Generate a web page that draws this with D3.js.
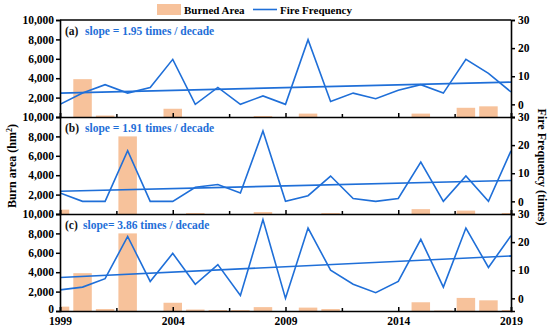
<!DOCTYPE html>
<html>
<head>
<meta charset="utf-8">
<script src="https://cdn.jsdelivr.net/npm/d3@7"></script>
<style>
  body { margin: 0; background: #fff; }
  text { font-family: "Liberation Serif", "Times New Roman", serif; font-weight: bold; }
</style>
</head>
<body>
<script>
var years = d3.range(1999, 2020);

// burned area (hm2), 1999..2019
var areaA = [0, 3900, 150, 0, 0, 850, 0, 0, 0, 100, 0, 350, 0, 0, 0, 0, 350, 0, 950, 1100, 0];
var areaB = [450, 0, 0, 8000, 0, 0, 100, 0, 0, 200, 0, 0, 100, 0, 0, 0, 500, 0, 350, 0, 100];
var areaC = [450, 3900, 200, 8000, 0, 850, 150, 100, 100, 400, 0, 350, 200, 0, 0, 0, 900, 50, 1350, 1100, 100];

// fire frequency (times), 1999..2019
var freqA = [0, 4, 7, 4, 6, 16, 0, 6, 0, 3, 0, 23, 1, 4, 2, 5, 7, 4, 16, 11, 4.4];
var freqB = [3, 0, 0, 18, 0, 0, 5, 6, 3, 25, 0, 2, 9, 1, 0, 1, 14, 0, 9, 0, 18];
var freqC = [3, 4, 7, 22, 6, 16, 5, 12, 1, 28, 0, 25, 10, 5, 2, 6, 21, 4, 25, 11, 22.3];

// trend line ends (1999, 2019)
var trendA = [4.0, 7.9];
var trendB = [3.6, 7.4];
var trendC = [7.4, 15.1];

var labels = ["(a)", "(b)", "(c)"];
var slopeText = ["slope = 1.95 times / decade", "slope = 1.91 times / decade", "slope= 3.86 times / decade"];

var W = 550, H = 333;
var mLeft = 60, mRight = 511, mTop = 20, ph = 97;
var barCol = "#f7c29b", lineCol = "#1f6fd8";

var svg = d3.select("body").append("svg")
  .attr("width", W).attr("height", H);

var x = d3.scaleLinear().domain([1999, 2019]).range([mLeft, mRight]);
var bw = (x(2000) - x(1999)) * 0.82;

var panels = [
  { area: areaA, freq: freqA, trend: trendA },
  { area: areaB, freq: freqB, trend: trendB },
  { area: areaC, freq: freqC, trend: trendC }
];

panels.forEach(function (p, i) {
  var y0 = mTop + i * ph, y1 = y0 + ph;
  var yL = d3.scaleLinear().domain([0, 10000]).range([y1, y0]);
  var yR = d3.scaleLinear().domain([-4.5, 30]).range([y1, y0]);

  svg.append("clipPath").attr("id", "clip" + i)
    .append("rect").attr("x", mLeft).attr("y", y0).attr("width", mRight - mLeft).attr("height", ph);

  var g = svg.append("g").attr("clip-path", "url(#clip" + i + ")");

  g.selectAll("rect.bar")
    .data(years.map(function (yr, k) { return { yr: yr, v: p.area[k] }; }).filter(function (d) { return d.v > 0; }))
    .enter().append("rect")
    .attr("class", "bar")
    .attr("x", function (d) { return x(d.yr) - bw / 2; })
    .attr("width", bw)
    .attr("y", function (d) { return yL(d.v); })
    .attr("height", function (d) { return y1 - yL(d.v); })
    .attr("fill", barCol);

  var line = d3.line()
    .x(function (d, k) { return x(years[k]); })
    .y(function (d) { return yR(d); });

  g.append("path")
    .datum(p.freq)
    .attr("d", line)
    .attr("fill", "none")
    .attr("stroke", lineCol)
    .attr("stroke-width", 1.6)
    .attr("stroke-linejoin", "miter");

  g.append("line")
    .attr("x1", x(1999)).attr("x2", x(2019))
    .attr("y1", yR(p.trend[0])).attr("y2", yR(p.trend[1]))
    .attr("stroke", lineCol)
    .attr("stroke-width", 1.6);

  // left axis
  var lt = i < 2 ? [2000, 4000, 6000, 8000, 10000] : [0, 2000, 4000, 6000, 8000, 10000];
  var la = svg.append("g")
    .attr("transform", "translate(" + mLeft + ",0)")
    .call(d3.axisLeft(yL).tickValues(lt).tickFormat(d3.format(",")).tickSize(4).tickPadding(2))
    .call(styleAxis);
  // lift the bottom "0" a little, clear of the year labels
  la.selectAll(".tick text").filter(function (d) { return d === 0; }).attr("dy", "0.12em");

  // right axis
  svg.append("g")
    .attr("transform", "translate(" + mRight + ",0)")
    .call(d3.axisRight(yR).tickValues([0, 10, 20, 30]).tickSize(4).tickPadding(3))
    .call(styleAxis);

  // bottom of each panel, ticks point inward
  var bx = svg.append("g")
    .attr("transform", "translate(0," + y1 + ")")
    .call(d3.axisBottom(x).tickValues(d3.range(1999, 2020, 2.5)).tickSize(-4).tickFormat(function (d) {
      return (i == 2 && d % 5 == 4) ? d : "";
    }).tickPadding(8))
    .call(styleAxis);
  bx.selectAll(".tick text").attr("y", 5).attr("dy", "0.8em");
  bx.selectAll(".tick line")
    .attr("y2", function (d) { return d % 5 == 4 ? -4 : -3; });

  svg.append("text")
    .attr("x", 65).attr("y", y0 + 15)
    .attr("font-size", 11.5)
    .attr("fill", "#111")
    .text(labels[i]);
  svg.append("text")
    .attr("x", i == 2 ? 83 : 85).attr("y", y0 + 15)
    .attr("font-size", 11.5)
    .attr("fill", lineCol)
    .text(slopeText[i]);
});

// frame top
svg.append("line")
  .attr("x1", mLeft).attr("x2", mRight).attr("y1", mTop).attr("y2", mTop)
  .attr("stroke", "#000").attr("stroke-width", 1.6);

function styleAxis(sel) {
  sel.select(".domain").attr("stroke", "#000").attr("stroke-width", 1.6);
  sel.selectAll(".tick line").attr("stroke", "#000").attr("stroke-width", 1.5);
  sel.selectAll(".tick text")
    .attr("font-size", 11.5)
    .attr("font-family", "Liberation Serif, serif")
    .attr("font-weight", "bold")
    .attr("fill", "#000");
}

// axis titles
svg.append("text")
  .attr("transform", "translate(16,166) rotate(-90)")
  .attr("text-anchor", "middle")
  .attr("font-size", 12)
  .html('Burn area (hm<tspan baseline-shift="super" font-size="8">2</tspan>)');

svg.append("text")
  .attr("transform", "translate(538,167) rotate(90)")
  .attr("text-anchor", "middle")
  .attr("font-size", 12)
  .text("Fire Frequency (times)");

// legend
var lg = svg.append("g");
lg.append("rect").attr("x", 157).attr("y", 4).attr("width", 24).attr("height", 11).attr("fill", barCol);
lg.append("text").attr("x", 184).attr("y", 13.5).attr("font-size", 11).text("Burned Area");
lg.append("line").attr("x1", 253).attr("x2", 277).attr("y1", 9.5).attr("y2", 9.5)
  .attr("stroke", lineCol).attr("stroke-width", 1.6);
lg.append("text").attr("x", 280).attr("y", 13.5).attr("font-size", 11).text("Fire Frequency");
</script>
</body>
</html>
